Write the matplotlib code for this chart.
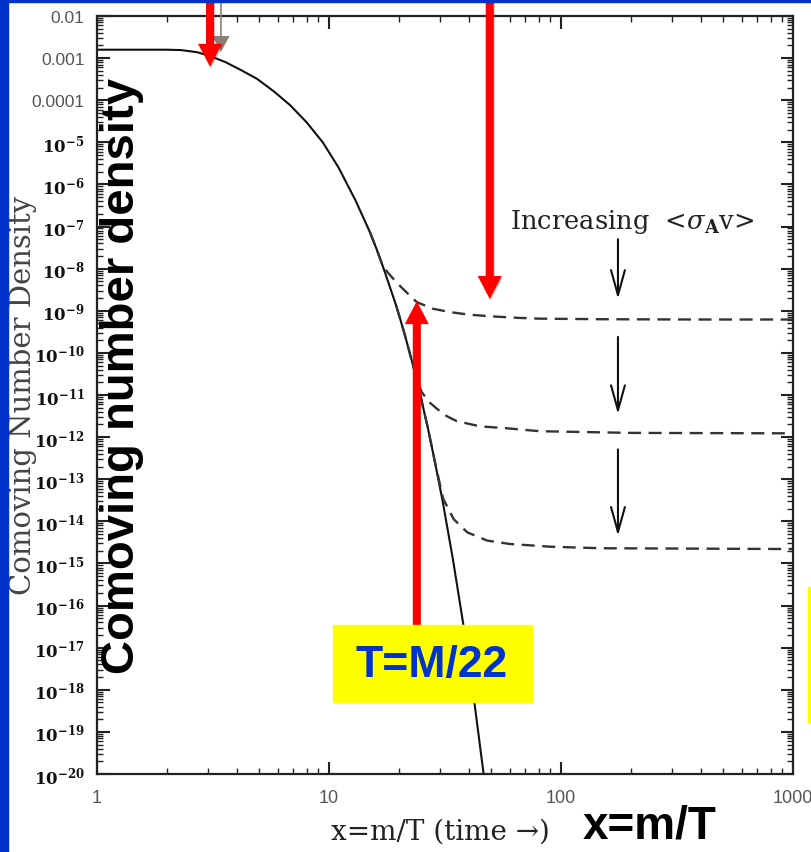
import matplotlib
matplotlib.use("Agg")
import matplotlib.pyplot as plt
from matplotlib.patches import Rectangle
from matplotlib.ticker import LogLocator, NullFormatter
import matplotlib.patheffects as pe
import numpy as np

plt.rcParams['mathtext.fontset'] = 'dejavuserif'

# equilibrium abundance (solid)
x_eq = [1.0, 1.5, 2.0, 2.3, 2.7, 3.1, 3.6, 4.2, 4.9, 5.8, 6.8, 8.0, 9.4, 11.0,
        13.0, 15.0, 16.0, 17.1, 18.2, 19.5, 21.1, 22.8, 24.7, 26.7, 28.6, 31.0,
        34.2, 37.8, 41.8, 46.2, 50.0]
y_eq = [1.58e-3, 1.58e-3, 1.58e-3, 1.55e-3, 1.38e-3, 1.10e-3, 7.9e-4, 5.1e-4,
        3.2e-4, 1.6e-4, 7.6e-5, 3.0e-5, 1.0e-5, 2.5e-6, 4.2e-7, 7.4e-8, 3.0e-8,
        1.1e-8, 4.0e-9, 1.3e-9, 3.0e-10, 6.2e-11, 1.05e-11, 1.6e-12, 2.6e-13,
        2.7e-14, 1.26e-15, 4.0e-17, 8.5e-19, 1.2e-20, 3.2e-22]

# freeze-out curves (dashed), smallest to largest <sigma v>
x_fo1 = [15.0, 16.0, 17.1, 18.5, 20.5, 23.9, 28.0, 33.3, 40.0, 49.5, 65.0, 81.0, 150.0, 400.0, 1000.0]
y_fo1 = [7.4e-8, 3.0e-8, 1.1e-8, 6.6e-9, 3.6e-9, 1.6e-9, 1.12e-9, 9.3e-10, 8.1e-10,
         7.4e-10, 6.8e-10, 6.5e-10, 6.3e-10, 6.2e-10, 6.2e-10]
x_fo2 = [19.5, 21.1, 22.8, 24.0, 25.1, 27.0, 29.2, 32.0, 35.5, 44.8, 58.5, 81.0, 200.0, 1000.0]
y_fo2 = [1.3e-9, 3.0e-10, 6.2e-11, 2.2e-11, 1.17e-11, 6.8e-12, 4.7e-12, 3.2e-12, 2.4e-12,
         1.8e-12, 1.62e-12, 1.38e-12, 1.26e-12, 1.23e-12]
x_fo3 = [24.7, 26.7, 28.6, 31.0, 34.5, 39.4, 48.0, 60.2, 90.0, 147.0, 1000.0]
y_fo3 = [1.05e-11, 1.6e-12, 2.6e-13, 3.5e-14, 1.12e-14, 5.5e-15, 3.5e-15, 2.9e-15,
         2.5e-15, 2.3e-15, 2.2e-15]

y_ticks = [10.0 ** -k for k in range(2, 21)]
y_ticklabels = ["0.01", "0.001", "0.0001"] + [r"$\mathbf{10^{-%d}}$" % k for k in range(5, 21)]
x_ticks = [1, 10, 100, 1000]
x_ticklabels = ["1", "10", "100", "1000"]

# "increasing <sigma v>" arrows: x, start, end
inc_x = 176
inc_from = [5.0e-8, 2.4e-10, 5.1e-13]
inc_to = [1.9e-9, 3.5e-12, 4.5e-15]

# red pointer arrows: (x, tip y)
red_down = [(3.07, 6.2e-4), (49.3, 1.9e-9)]
red_up = (23.9, 1.7e-9)

fig = plt.figure(figsize=(8.12, 8.53), dpi=100)
fig.patch.set_facecolor('white')
ax = fig.add_axes([0.1195, 0.0914, 0.8571, 0.8887])

ax.plot(x_eq, y_eq, color='#111111', lw=1.5, zorder=2)
for xs, ys in [(x_fo1, y_fo1), (x_fo2, y_fo2), (x_fo3, y_fo3)]:
    ax.plot(xs, ys, color='#333333', lw=1.7, dashes=(5.5, 3.2), zorder=2)

ax.set_xscale('log')
ax.set_yscale('log')
ax.set_xlim(1, 1000)
ax.set_ylim(1e-20, 1e-2)

ax.set_yticks(y_ticks, y_ticklabels)
ax.set_xticks(x_ticks, x_ticklabels)
ax.yaxis.set_minor_locator(LogLocator(base=10, subs=np.arange(2, 10), numticks=400))
ax.xaxis.set_minor_locator(LogLocator(base=10, subs=np.arange(2, 10), numticks=400))
ax.yaxis.set_minor_formatter(NullFormatter())
ax.xaxis.set_minor_formatter(NullFormatter())
ax.tick_params(which='both', direction='in', top=True, right=True, color='#222222')
ax.tick_params(which='major', length=9, width=1.5)
ax.tick_params(which='minor', length=4.5, width=1.0)
ax.tick_params(axis='y', pad=9)
ax.tick_params(axis='x', pad=11)
for sp in ax.spines.values():
    sp.set_linewidth(1.6)
    sp.set_color('#222222')

for i, lab in enumerate(ax.get_yticklabels()):
    if i < 3:
        lab.set_family('Liberation Sans')
        lab.set_color('#555555')
        lab.set_fontsize(12.5)
    else:
        lab.set_color('#111111')
        lab.set_fontsize(12)
for lab in ax.get_xticklabels():
    lab.set_family('Liberation Sans')
    lab.set_color('#555555')
    lab.set_fontsize(13)

# original axis titles
fig.text(0.028, 0.537, "Comoving Number Density", rotation=90, family='DejaVu Serif',
         color='#444444', fontsize=21, ha='center', va='center')
fig.text(0.543, 0.0245, "x=m/T (time \u2192)", family='DejaVu Serif', color='#222222',
         fontsize=20, ha='center', va='center')
fig.text(510 / 812, 1 - 229 / 853, r"Increasing  <$\sigma_{\mathbf{A}}$v>", family='DejaVu Serif',
         color='#222222', fontsize=18.5, ha='left', va='baseline')

for y0, y1 in zip(inc_from, inc_to):
    ax.annotate('', xy=(inc_x, y1), xytext=(inc_x, y0),
                arrowprops=dict(arrowstyle='->,head_length=0.9,head_width=0.25',
                                mutation_scale=20, color='#111111', lw=1.5,
                                shrinkA=0, shrinkB=0))

# grey pointer behind the first red one
ax.annotate('', xy=(3.42, 1.4e-3), xytext=(3.42, 1.0), textcoords=('data', 'figure fraction'),
            arrowprops=dict(arrowstyle='simple,head_length=1.15,head_width=1.25,tail_width=0.12',
                            mutation_scale=10, color='#8c8073', lw=0, shrinkA=0, shrinkB=0),
            annotation_clip=False, zorder=4)

shadow = [pe.SimplePatchShadow(offset=(0.8, -1.2), alpha=0.2), pe.Normal()]
red_style = 'simple,head_length=1.66,head_width=1.73,tail_width=0.58'
for rx, ry in red_down:
    a = ax.annotate('', xy=(rx, ry), xytext=(rx, 1.0), textcoords=('data', 'figure fraction'),
                    arrowprops=dict(arrowstyle=red_style, mutation_scale=10, color='#ff0000',
                                    lw=0, shrinkA=0, shrinkB=0),
                    annotation_clip=False, zorder=5)
    a.arrow_patch.set_path_effects(shadow)
a = ax.annotate('', xy=red_up, xytext=(red_up[0], 1 - 626 / 853), textcoords=('data', 'figure fraction'),
                arrowprops=dict(arrowstyle=red_style, mutation_scale=10, color='#ff0000',
                                lw=0, shrinkA=0, shrinkB=0),
                annotation_clip=False, zorder=5)

# slide overlays
fig.add_artist(Rectangle((333 / 812, 1 - 703 / 853), 199 / 812, 77 / 853,
                         transform=fig.transFigure, color='#ffff00', zorder=6))
fig.text(432 / 812, 1 - 666 / 853, "T=M/22", family='Liberation Sans', weight='bold',
         color='#0033cc', fontsize=32, ha='center', va='center', zorder=7)
fig.add_artist(Rectangle((808 / 812, 1 - 723 / 853), 0.05, 135 / 853,
                         transform=fig.transFigure, color='#ffff00', zorder=6))
fig.text(0.150, 0.559, "Comoving number density", rotation=90, family='Liberation Sans',
         weight='bold', color='black', fontsize=34, ha='center', va='center', zorder=7)
fig.text(650 / 812, 0.017, "x=m/T", family='Liberation Sans', weight='bold',
         color='black', fontsize=33, ha='center', va='baseline', zorder=7)

# blue frame
fig.add_artist(Rectangle((0, 0), 8 / 812, 1, transform=fig.transFigure,
                         color='#0033cc', zorder=8))
fig.add_artist(Rectangle((0, 1 - 3 / 853), 1, 3 / 853, transform=fig.transFigure,
                         color='#0033cc', zorder=8))

fig.savefig('out.png', dpi=100)
